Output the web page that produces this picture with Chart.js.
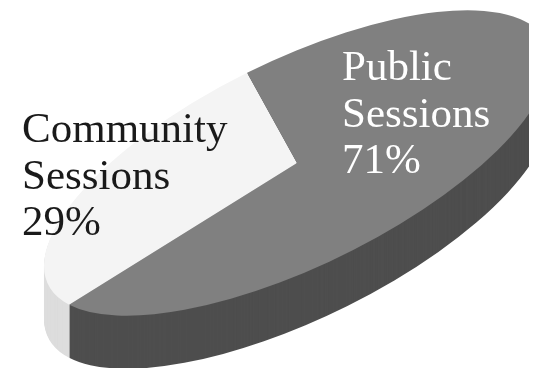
<!DOCTYPE html>
<html>
<head>
<meta charset="utf-8">
<script src="https://cdn.jsdelivr.net/npm/chart.js@4/dist/chart.umd.min.js"></script>
<style>
  html, body { margin: 0; padding: 0; background: #ffffff; }
  #chartSessoes { display: block; }
</style>
</head>
<body>
<canvas id="chartSessoes" width="540" height="368"></canvas>
<script>
var categorias = ['Community Sessions', 'Public Sessions'];
var valores = [29, 71];
var coresTopo = ['#f4f4f4', '#808080'];
var coresLado = ['#dddddd', '#4e4e4e'];
var coresTexto = ['#1a1a1a', '#ffffff'];

// where the ellipse sits on the page and how it is tilted
var elipse = { cx: 297, cy: 163, a: 277, b: 103, angulo: -26, profundidade: 53, corteX: 529 };
var posRotulos = [{ x: 22, y: 142 }, { x: 342, y: 80 }];

function aplicaElipse(ctx, arc) {
    ctx.translate(elipse.cx, elipse.cy);
    ctx.rotate(elipse.angulo * Math.PI / 180);
    ctx.scale(elipse.a / arc.outerRadius, elipse.b / arc.outerRadius);
    ctx.translate(-arc.x, -arc.y);
}

function corta(ctx) {
    ctx.beginPath();
    ctx.rect(0, 0, elipse.corteX, ctx.canvas.height);
    ctx.clip();
}

var pie3d = {
    id: 'pie3d',
    beforeDatasetsDraw: function (chart) {
        var ctx = chart.ctx;
        var arcs = chart.getDatasetMeta(0).data;
        ctx.save();
        corta(ctx);
        for (var d = elipse.profundidade; d >= 1; d--) {
            ctx.save();
            ctx.translate(0, d);
            aplicaElipse(ctx, arcs[0]);
            arcs.forEach(function (arc, i) {
                ctx.beginPath();
                ctx.moveTo(arc.x, arc.y);
                ctx.arc(arc.x, arc.y, arc.outerRadius, arc.startAngle, arc.endAngle);
                ctx.closePath();
                ctx.fillStyle = coresLado[i];
                ctx.fill();
            });
            ctx.restore();
        }
        ctx.restore();
    },
    beforeDatasetDraw: function (chart) {
        chart.ctx.save();
        corta(chart.ctx);
        aplicaElipse(chart.ctx, chart.getDatasetMeta(0).data[0]);
    },
    afterDatasetDraw: function (chart) {
        chart.ctx.restore();
    },
    afterDraw: function (chart) {
        var ctx = chart.ctx;
        var total = valores.reduce(function (s, v) { return s + v; }, 0);
        ctx.save();
        ctx.font = '43px "Liberation Serif", serif';
        ctx.textAlign = 'left';
        ctx.textBaseline = 'alphabetic';
        categorias.forEach(function (cat, i) {
            var linhas = cat.split(' ');
            linhas.push(Math.round(valores[i] / total * 100) + '%');
            ctx.fillStyle = coresTexto[i];
            linhas.forEach(function (txt, k) {
                ctx.fillText(txt, posRotulos[i].x, posRotulos[i].y + k * 46.5);
            });
        });
        ctx.restore();
    }
};

var chart = new Chart(document.getElementById('chartSessoes'), {
    type: 'pie',
    data: {
        labels: categorias,
        datasets: [{
            data: valores,
            backgroundColor: coresTopo,
            borderWidth: 0,
            clip: false
        }]
    },
    options: {
        responsive: false,
        animation: false,
        rotation: 254.5,
        layout: { padding: 0 },
        plugins: {
            legend: { display: false },
            tooltip: { enabled: false }
        }
    },
    plugins: [pie3d]
});
</script>
</body>
</html>
